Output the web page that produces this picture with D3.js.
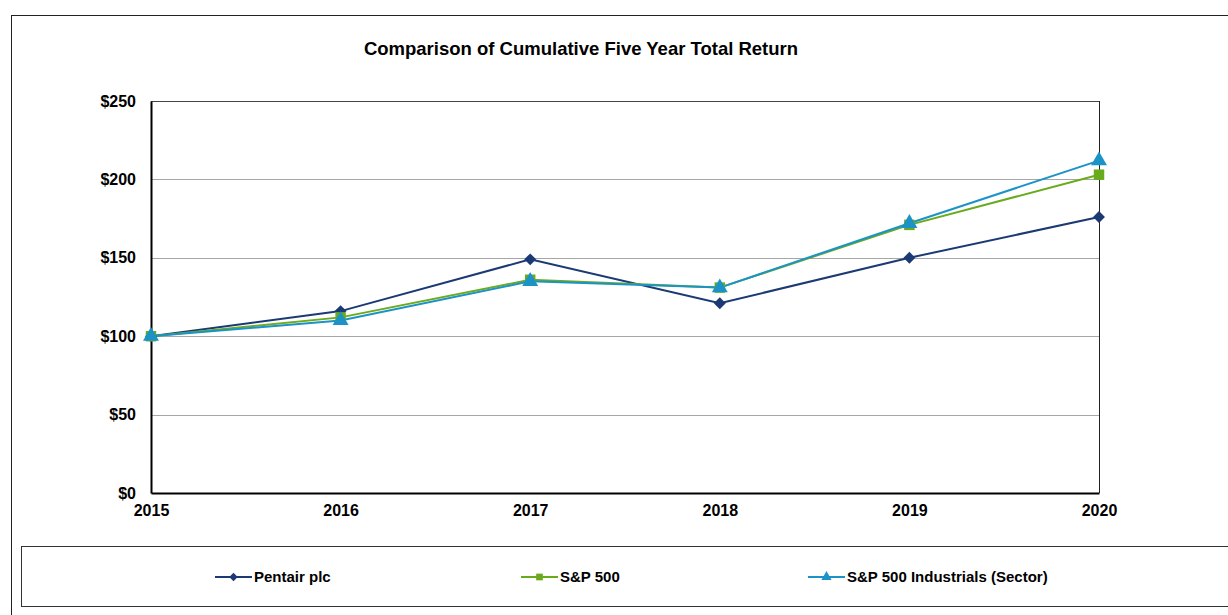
<!DOCTYPE html>
<html>
<head>
<meta charset="utf-8">
<script src="https://cdn.jsdelivr.net/npm/d3@7"></script>
<style>
  body { margin: 0; background: #fff; }
  text { font-family: "Liberation Sans", Arial, sans-serif; font-weight: bold; fill: #000; }
</style>
</head>
<body>
<div id="app"></div>
<script>
const OUTER = { width: 1228, height: 615 }
const MARGIN = { top: 101, left: 151, right: 129, bottom: 122 }
const INNER = {
  width: OUTER.width - MARGIN.left - MARGIN.right,
  height: OUTER.height - MARGIN.top - MARGIN.bottom,
};

const years = [2015, 2016, 2017, 2018, 2019, 2020]
const pentair = [100, 116, 149, 121, 150, 176]
const sp500 = [100, 112, 136, 131, 171, 203]
const industrials = [100, 110, 135, 131, 172, 212]
const yTicks = [0, 50, 100, 150, 200, 250]
const seriesNames = ["Pentair plc", "S&P 500", "S&P 500 Industrials (Sector)"]
const seriesColors = ["#1b3a73", "#6aab1e", "#1b93c6"]
const seriesSymbols = [d3.symbolDiamond2, d3.symbolSquare, d3.symbolTriangle]
const symbolSizes = [90, 110, 110]

const series = [pentair, sp500, industrials].map((values, i) => ({
  name: seriesNames[i],
  color: seriesColors[i],
  symbol: seriesSymbols[i],
  size: symbolSizes[i],
  values: values.map((v, j) => ({ year: years[j], value: v })),
}));

const xScale = d3.scaleLinear()
  .domain([years[0], years[years.length - 1]])
  .range([0, INNER.width])

const yScale = d3.scaleLinear()
  .domain([0, 250])
  .range([INNER.height, 0])

const line = d3.line()
  .x(d => xScale(d.year))
  .y(d => yScale(d.value));

const svg = d3.select('#app')
  .append('svg')
  .attr('width', OUTER.width)
  .attr('height', OUTER.height);

// outer chart frame
svg.append('rect')
  .attr('x', 11.5).attr('y', 15.5)
  .attr('width', 1240).attr('height', 620)
  .attr('fill', 'none').attr('stroke', '#222').attr('stroke-width', 1);

svg.append('text')
  .attr('x', 581).attr('y', 55)
  .attr('text-anchor', 'middle')
  .style('font-size', '18.5px')
  .text('Comparison of Cumulative Five Year Total Return');

const chart = svg.append('g')
  .attr('transform', `translate(${MARGIN.left}, ${MARGIN.top})`);

// gridlines
chart.append('g')
  .selectAll('line')
  .data(yTicks.filter(d => d > 0))
  .join('line')
  .attr('x1', 0).attr('x2', INNER.width)
  .attr('y1', d => Math.round(yScale(d)) + 0.5)
  .attr('y2', d => Math.round(yScale(d)) + 0.5)
  .attr('stroke', '#a6a6a6');

// right/top plot frame
chart.append('line')
  .attr('x1', INNER.width + 0.5).attr('x2', INNER.width + 0.5)
  .attr('y1', 0).attr('y2', INNER.height)
  .attr('stroke', '#222');
chart.append('line')
  .attr('x1', 0).attr('x2', INNER.width)
  .attr('y1', 0.5).attr('y2', 0.5)
  .attr('stroke', '#444');

const yAxis = chart.append('g')
  .call(d3.axisLeft(yScale).tickValues(yTicks).tickFormat(d => `$${d}`).tickSize(0).tickPadding(15));
yAxis.select('.domain').attr('stroke', '#000').attr('stroke-width', 2);
yAxis.selectAll('text').style('font-size', '16px').style('font-family', '"Liberation Sans", Arial, sans-serif').attr('dy', '0.32em');

const xAxis = chart.append('g')
  .attr('transform', `translate(0, ${INNER.height})`)
  .call(d3.axisBottom(xScale).tickValues(years).tickFormat(d3.format('d')).tickSize(0).tickPadding(12));
xAxis.select('.domain').attr('stroke', '#000').attr('stroke-width', 2);
xAxis.selectAll('text').style('font-size', '16px').style('font-family', '"Liberation Sans", Arial, sans-serif');

series.forEach(s => {
  chart.append('path')
    .datum(s.values)
    .attr('fill', 'none')
    .attr('stroke', s.color)
    .attr('stroke-width', 2)
    .attr('d', line);
});

series.forEach(s => {
  chart.append('g')
    .selectAll('path')
    .data(s.values)
    .join('path')
    .attr('transform', d => `translate(${xScale(d.year)}, ${yScale(d.value)})`)
    .attr('d', d3.symbol().type(s.symbol).size(s.size))
    .attr('fill', s.color);
});

// legend
svg.append('rect')
  .attr('x', 21.5).attr('y', 546.5)
  .attr('width', 1240).attr('height', 60)
  .attr('fill', '#fff').attr('stroke', '#333');

const legendX = [215, 521, 808];
const legend = svg.append('g')
  .selectAll('g')
  .data(series)
  .join('g')
  .attr('transform', (d, i) => `translate(${legendX[i]}, 577)`);
legend.append('line')
  .attr('x1', 0).attr('x2', 37)
  .attr('stroke', d => d.color).attr('stroke-width', 2);
legend.append('path')
  .attr('transform', 'translate(18.5, 0)')
  .attr('d', d => d3.symbol().type(d.symbol).size(45)())
  .attr('fill', d => d.color);
legend.append('text')
  .attr('x', 39).attr('dy', '0.35em')
  .style('font-size', '15px')
  .text(d => d.name);
</script>
</body>
</html>
